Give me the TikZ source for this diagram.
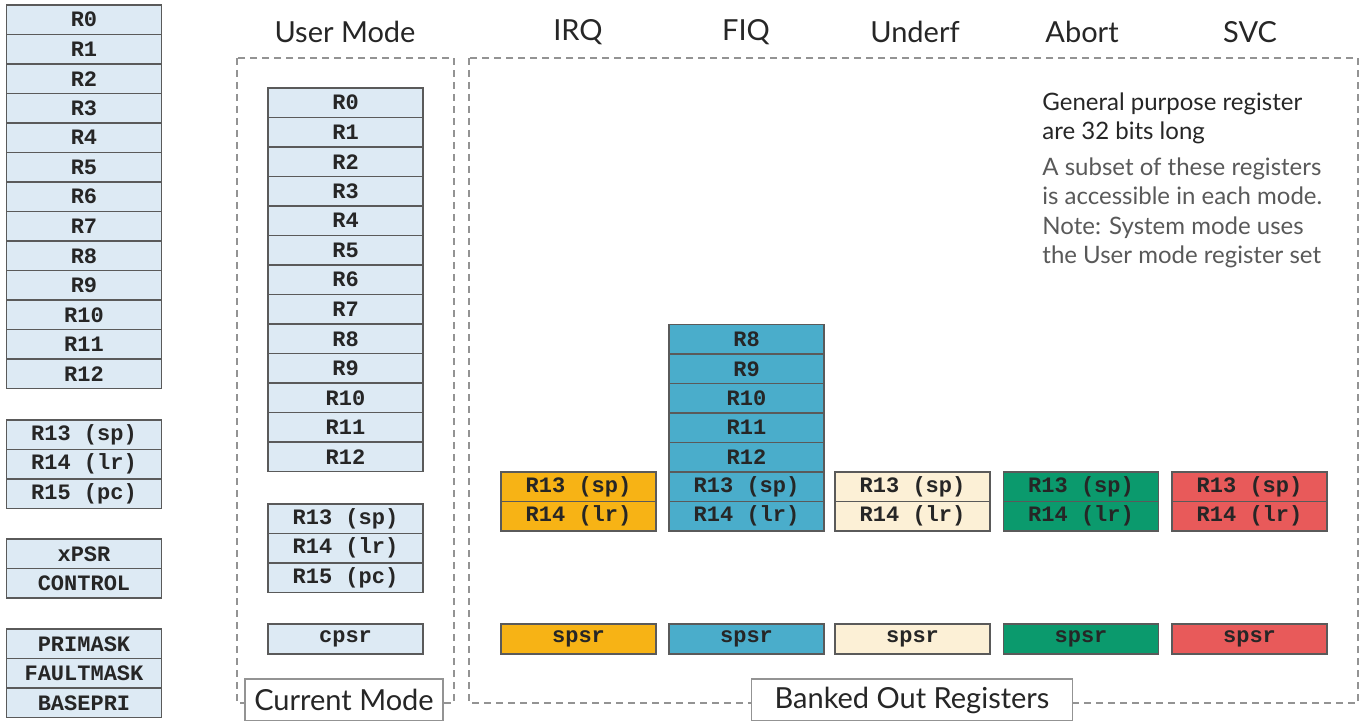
\documentclass[tikz,border=0pt]{standalone}
\usepackage{fontspec}
\setmainfont{Lato}
\newfontfamily\regfont{Liberation Mono}
\usetikzlibrary{positioning}
\definecolor{regblue}{HTML}{DDEAF4}
\definecolor{regline}{HTML}{5A5A5A}
\definecolor{regtext}{HTML}{262626}
\definecolor{irqcol}{HTML}{F7B315}
\definecolor{fiqcol}{HTML}{4AADCB}
\definecolor{undcol}{HTML}{FCF0D6}
\definecolor{abtcol}{HTML}{0B9A6D}
\definecolor{svccol}{HTML}{E85A5A}
\tikzset{
	% one register cell, cells are stacked with no gap
	reg/.style={draw=regline,line width=0.6pt,fill=regblue,text=regtext,
		minimum width=77.5pt,minimum height=14.75pt,inner sep=0pt,outer sep=0pt,
		font=\regfont\bfseries\fontsize{11}{11}\selectfont},
	mode title/.style={font=\fontsize{14.5}{15}\selectfont,text=black!85},
	group box/.style={draw=gray!85,line width=0.6pt,dash pattern=on 3.5pt off 2.5pt},
	tag box/.style={draw=gray!85,fill=white,line width=0.6pt,inner sep=0pt,
		minimum height=21pt,font=\fontsize{14.5}{15}\selectfont,text=black!85},
	note head/.style={align=left,inner sep=0pt,text=black!85,
		font=\fontsize{12}{14.75}\selectfont},
	note body/.style={align=left,inner sep=0pt,text=black!65,
		font=\fontsize{12}{14.75}\selectfont}
}

\begin{document}
\begin{tikzpicture}[x=0.5pt,y=-0.5pt]
	\useasboundingbox (0,0) rectangle (1363,721);
	% macro for the banked registers of one mode
	\newcommand{\banked}[3]{%
		\node[reg,fill=#3,anchor=north] (#1-13) at (#2,472) {R13 (sp)};
		\node[reg,fill=#3,below=0pt of #1-13] (#1-14) {R14 (lr)};
		\node[reg,fill=#3,anchor=north,minimum height=15pt] (#1-spsr) at (#2,624) {spsr};
	}

	% dashed frames
	\draw[group box] (237,58) rectangle (454,703);
	\draw[group box] (469,58) rectangle (1358,703);

	% left column: all registers
	\node[reg,anchor=north] (gp0) at (84,5) {R0};
	\foreach \i [remember=\i as \j (initially 0)] in {1,...,12}
		\node[reg,below=0pt of gp\j] (gp\i) {R\i};
	\node[reg,anchor=north] (gp13) at (84,420) {R13 (sp)};
	\node[reg,below=0pt of gp13] (gp14) {R14 (lr)};
	\node[reg,below=0pt of gp14] (gp15) {R15 (pc)};
	\node[reg,anchor=north] (xpsr) at (84,539) {xPSR};
	\node[reg,below=0pt of xpsr] (control) {CONTROL};
	\node[reg,anchor=north] (primask) at (84,629) {PRIMASK};
	\node[reg,below=0pt of primask] (faultmask) {FAULTMASK};
	\node[reg,below=0pt of faultmask] (basepri) {BASEPRI};

	% user mode column
	\node[mode title] (usertitle) at (345,32) {User Mode};
	\node[reg,anchor=north] (us0) at (345.5,88) {R0};
	\foreach \i [remember=\i as \j (initially 0)] in {1,...,12}
		\node[reg,below=0pt of us\j] (us\i) {R\i};
	\node[reg,anchor=north] (us13) at (345.5,504) {R13 (sp)};
	\node[reg,below=0pt of us13] (us14) {R14 (lr)};
	\node[reg,below=0pt of us14] (us15) {R15 (pc)};
	\node[reg,anchor=north,minimum height=15pt] (cpsr) at (345.5,624) {cpsr};

	% banked out registers
	\node[mode title] (irqtitle) at (578,32) {IRQ};
	\node[mode title] (fiqtitle) at (746,32) {FIQ};
	\node[mode title] (undtitle) at (915,32) {Underf};
	\node[mode title] (abttitle) at (1082,32) {Abort};
	\node[mode title] (svctitle) at (1250,32) {SVC};
	\banked{irq}{578.5}{irqcol}
	\banked{fiq}{746.5}{fiqcol}
	\banked{und}{912.5}{undcol}
	\banked{abt}{1081}{abtcol}
	\banked{svc}{1249.5}{svccol}
	\node[reg,fill=fiqcol,above=0pt of fiq-13] (fiq12) {R12};
	\foreach \i [remember=\i as \j (initially 12)] in {11,10,9,8}
		\node[reg,fill=fiqcol,above=0pt of fiq\j] (fiq\i) {R\i};

	% note text
	\node[note head,anchor=north west] (notehead) at (1042,92)
		{General purpose register\\are 32 bits long};
	\node[note body,anchor=north west] (notebody) at (1042,157)
		{A subset of these registers\\is accessible in each mode.\\Note: System mode uses\\the User mode register set};

	% frame captions
	\node[tag box,minimum width=99pt] (curtag) at (344,700) {Current Mode};
	\node[tag box,minimum width=160.5pt] (banktag) at (912,700) {Banked Out Registers};
\end{tikzpicture}
\end{document}
